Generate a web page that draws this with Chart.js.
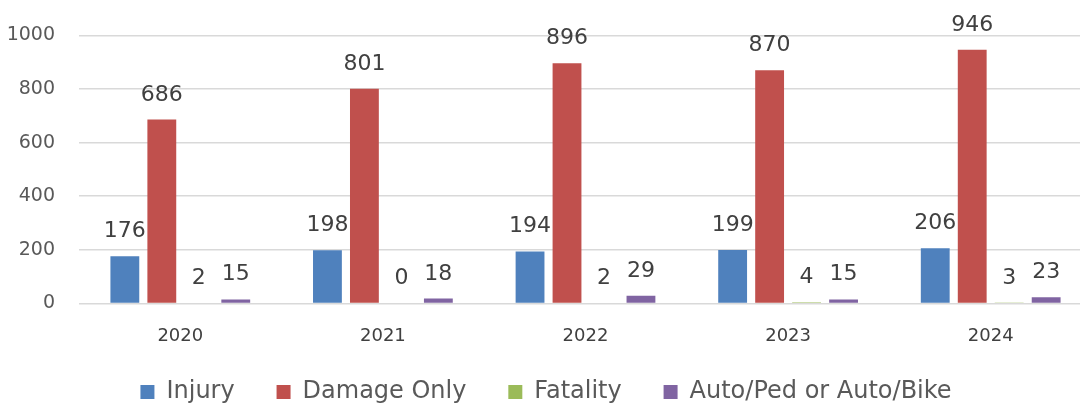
<!DOCTYPE html>
<html>
<head>
<meta charset="utf-8">
<script src="https://cdn.jsdelivr.net/npm/chart.js@4.4.1/dist/chart.umd.min.js"></script>
<style>
  html, body { margin: 0; padding: 0; background: #fff; overflow: hidden; }
  #wrap { width: 1092px; height: 405px; }
</style>
</head>
<body>
<div id="wrap"><canvas id="bars"></canvas></div>
<script>
const years = ['2020', '2021', '2022', '2023', '2024'];
const injury = [176, 198, 194, 199, 206];
const damageOnly = [686, 801, 896, 870, 946];
const fatality = [2, 0, 2, 4, 3];
const autoPedBike = [15, 18, 29, 15, 23];
const yTicks = [0, 200, 400, 600, 800, 1000];

const FONT = "'DejaVu Sans', sans-serif";

// draw the number above every bar
const valueLabels = {
  id: 'valueLabels',
  afterDatasetsDraw(chart) {
    const c = chart.ctx;
    c.save();
    c.font = '22px ' + FONT;
    c.fillStyle = '#404040';
    c.textAlign = 'center';
    c.textBaseline = 'alphabetic';
    chart.data.datasets.forEach((ds, i) => {
      chart.getDatasetMeta(i).data.forEach((bar, j) => {
        c.fillText(String(ds.data[j]), bar.x, bar.y - 19);
      });
    });
    c.restore();
  }
};

const ctx = document.getElementById('bars');

new Chart(ctx, {
  type: 'bar',
  data: {
    labels: years,
    datasets: [
      { label: 'Injury', data: injury, backgroundColor: '#4f81bd' },
      { label: 'Damage Only', data: damageOnly, backgroundColor: '#c0504d' },
      { label: 'Fatality', data: fatality, backgroundColor: '#9bbb59' },
      { label: 'Auto/Ped or Auto/Bike', data: autoPedBike, backgroundColor: '#8064a2' }
    ]
  },
  options: {
    responsive: true,
    maintainAspectRatio: false,
    animation: false,
    layout: { padding: { top: 30, right: 0, left: 0, bottom: -9 } },
    datasets: {
      bar: { categoryPercentage: 0.73, barPercentage: 0.78 }
    },
    plugins: {
      legend: {
        position: 'bottom',
        labels: {
          boxWidth: 14,
          boxHeight: 14,
          padding: 19,
          color: '#595959',
          font: { family: FONT, size: 24 },
          // extra gap between items without making the legend taller
          generateLabels(chart) {
            const items = Chart.defaults.plugins.legend.labels.generateLabels(chart);
            items.forEach((it, i) => { if (i < items.length - 1) it.text += '   '; });
            return items;
          }
        }
      },
      tooltip: { enabled: false }
    },
    scales: {
      x: {
        grid: { display: false },
        border: { display: false },
        ticks: { color: '#404040', font: { family: FONT, size: 18 }, padding: 14 }
      },
      y: {
        min: 0,
        max: 1000,
        afterBuildTicks(axis) { axis.ticks = yTicks.map(v => ({ value: v })); },
        afterFit(axis) { axis.width = 79; },
        grid: { color: '#d9d9d9', lineWidth: 1.5, drawTicks: false },
        border: { display: false },
        ticks: {
          color: '#595959',
          font: { family: FONT, size: 19 },
          padding: 24,
          callback: v => String(v)
        }
      }
    }
  },
  plugins: [valueLabels]
});
</script>
</body>
</html>
